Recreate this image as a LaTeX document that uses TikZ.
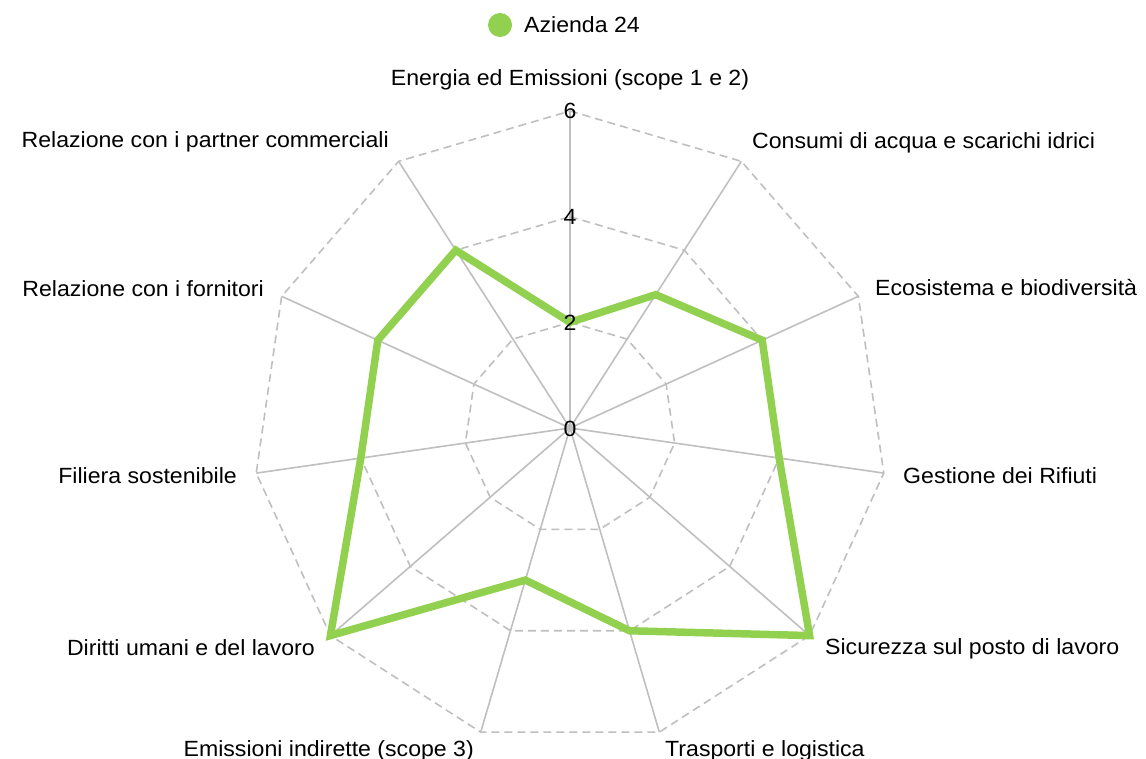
\documentclass[tikz,border=0pt]{standalone}
\usepackage{fontspec}
\setmainfont{Liberation Sans}[FakeStretch=1.05]
\definecolor{grn}{RGB}{146,208,80}
\definecolor{gridc}{RGB}{191,191,191}
\begin{document}
\begin{tikzpicture}[x=1pt,y=-1pt,
  spoke/.style={draw=gridc, line width=1.6pt},
  ring/.style={draw=gridc, line width=1.6pt, dash pattern=on 8pt off 5pt},
  series/.style={draw=grn, line width=7.5pt, line join=miter},
  lbl/.style={font=\fontsize{22}{26}\selectfont, inner sep=0pt, text height=16pt, text depth=0pt},
  num/.style={font=\fontsize{22}{26}\selectfont, inner sep=0pt, text height=16pt, text depth=0pt}]
\useasboundingbox (0,0) rectangle (1146,759);
\coordinate (o) at (570,428);
% spokes
\foreach \i in {0,...,10}{
  \coordinate (v\i) at ({570+317*cos(90-\i*360/11)},{428-317*sin(90-\i*360/11)});
  \draw[spoke] (o) -- (v\i);
}
% rings
\foreach \r in {105.667,211.333,317}{
  \draw[ring] ({570+\r*cos(90)},{428-\r*sin(90)})
    \foreach \i in {1,...,10}{ -- ({570+\r*cos(90-\i*360/11)},{428-\r*sin(90-\i*360/11)}) } -- cycle;
}
% data
\foreach \v [count=\i from 0] in {2,3,4,4,6,4,3,6,4,4,4}{
  \coordinate (d\i) at ({570+52.833*\v*cos(90-\i*360/11)},{428-52.833*\v*sin(90-\i*360/11)});
}
\draw[series] (d0) -- (d1) -- (d2) -- (d3) -- (d4) -- (d5) -- (d6) -- (d7) -- (d8) -- (d9) -- (d10) -- cycle;
% scale numbers
\node[num] (n0) at (570,428) {0};
\node[num] (n2) at (570,322.3) {2};
\node[num] (n4) at (570,216.7) {4};
\node[num] (n6) at (570,111) {6};
% legend
\fill[grn] (500,25) circle (12);
\node[lbl, anchor=west] (leg) at (524,25) {Azienda 24};
% axis labels
\node[lbl] (l0) at (570,78) {Energia ed Emissioni (scope 1 e 2)};
\node[lbl, anchor=west] (l1) at (752,141) {Consumi di acqua e scarichi idrici};
\node[lbl, anchor=west] (l2) at (875,288) {Ecosistema e biodiversità};
\node[lbl, anchor=west] (l3) at (903,475) {Gestione dei Rifiuti};
\node[lbl, anchor=west] (l4) at (825,646) {Sicurezza sul posto di lavoro};
\node[lbl, anchor=west] (l5) at (665,748) {Trasporti e logistica};
\node[lbl, anchor=east] (l6) at (474,748) {Emissioni indirette (scope 3)};
\node[lbl, anchor=east] (l7) at (315,647) {Diritti umani e del lavoro};
\node[lbl, anchor=east] (l8) at (237,475) {Filiera sostenibile};
\node[lbl, anchor=east] (l9) at (264,289) {Relazione con i fornitori};
\node[lbl, anchor=east] (l10) at (389,140) {Relazione con i partner commerciali};
\end{tikzpicture}
\end{document}
